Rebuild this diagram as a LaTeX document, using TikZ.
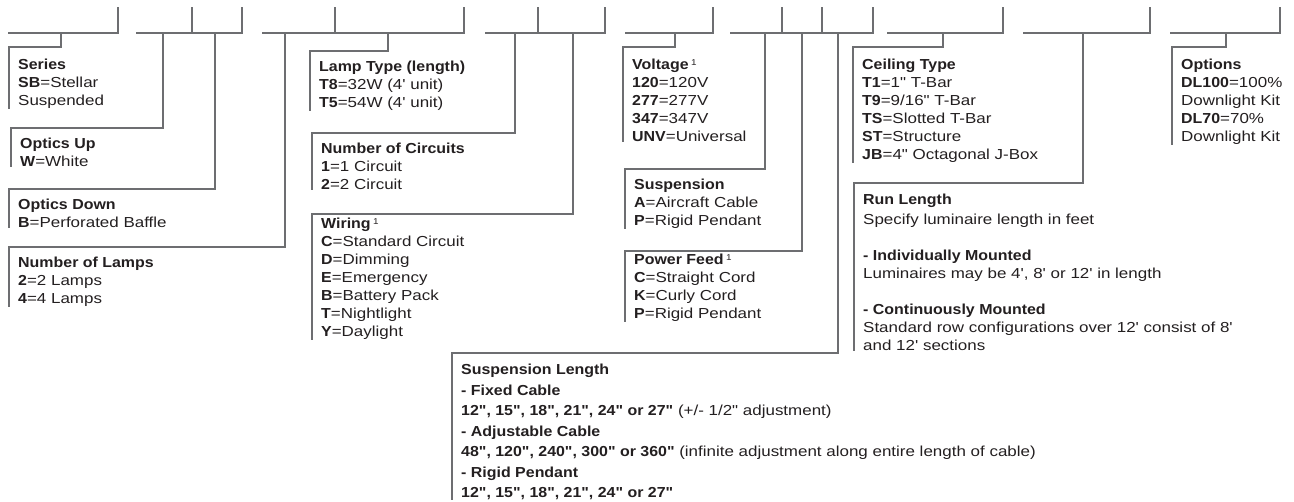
\documentclass[tikz,border=0pt]{standalone}
\usepackage{fontspec}
\setmainfont{Liberation Sans}[Ligatures=TeXOff,FakeStretch=1.17,BoldFeatures={FakeStretch=1.1}]
\definecolor{ink}{HTML}{231F20}
\definecolor{rulegray}{HTML}{6D6E71}
\newcommand\fnmark{\,\raisebox{4pt}{\fontsize{8.5}{8.5}\selectfont 1}}

\begin{document}
\begin{tikzpicture}[x=1pt,y=-1pt]
  \tikzstyle{lead}=[draw=rulegray,line width=1.2pt]
  \tikzstyle{spec}=[anchor=north west,align=left,inner xsep=9pt,inner ysep=0pt,text=ink,font=\fontsize{14.5}{18}\selectfont]
  \useasboundingbox (0,0) rectangle (1294,501);
  % code fields
  \draw[lead] (8,33) -- (118,33) -- (118,7);
  \draw[lead] (136,33) -- (242,33) -- (242,7) (192,33) -- (192,7);
  \draw[lead] (262,33) -- (464,33) -- (464,7) (335,33) -- (335,7);
  \draw[lead] (485,33) -- (605,33) -- (605,7) (538,33) -- (538,7);
  \draw[lead] (625,33) -- (713,33) -- (713,7);
  \draw[lead] (730,33) -- (873,33) -- (873,7) (782,33) -- (782,7) (822,33) -- (822,7);
  \draw[lead] (887,33) -- (1003,33) -- (1003,7);
  \draw[lead] (1023,33) -- (1150,33) -- (1150,7);
  \draw[lead] (1170,33) -- (1280,33) -- (1280,7);
  \coordinate (series-drop) at (61,33);
  \coordinate (optup-drop) at (163,33);
  \coordinate (optdown-drop) at (215,33);
  \coordinate (lamps-drop) at (285,33);
  \coordinate (lamptype-drop) at (388,33);
  \coordinate (circuits-drop) at (515,33);
  \coordinate (wiring-drop) at (573,33);
  \coordinate (voltage-drop) at (675,33);
  \coordinate (suspension-drop) at (765,33);
  \coordinate (feed-drop) at (802,33);
  \coordinate (susplength-drop) at (838,33);
  \coordinate (ceiling-drop) at (943,33);
  \coordinate (runlength-drop) at (1083,33);
  \coordinate (options-drop) at (1226,33);
  % legend blocks
  \node[spec] (series) at (9,59) {\textbf{Series}\\\textbf{SB}=Stellar\\Suspended};
  \node[spec] (optup) at (11,138) {\textbf{Optics Up}\\\textbf{W}=White};
  \node[spec] (optdown) at (9,199) {\textbf{Optics Down}\\\textbf{B}=Perforated Baffle};
  \node[spec] (lamps) at (9,257) {\textbf{Number of Lamps}\\\textbf{2}=2 Lamps\\\textbf{4}=4 Lamps};
  \node[spec] (lamptype) at (310,61) {\textbf{Lamp Type (length)}\\\textbf{T8}=32W (4' unit)\\\textbf{T5}=54W (4' unit)};
  \node[spec] (circuits) at (312,143) {\textbf{Number of Circuits}\\\textbf{1}=1 Circuit\\\textbf{2}=2 Circuit};
  \node[spec] (wiring) at (312,218) {\textbf{Wiring}\fnmark\\\textbf{C}=Standard Circuit\\\textbf{D}=Dimming\\\textbf{E}=Emergency\\\textbf{B}=Battery Pack\\\textbf{T}=Nightlight\\\textbf{Y}=Daylight};
  \node[spec] (voltage) at (623,59) {\textbf{Voltage}\fnmark\\\textbf{120}=120V\\\textbf{277}=277V\\\textbf{347}=347V\\\textbf{UNV}=Universal};
  \node[spec] (suspension) at (625,179) {\textbf{Suspension}\\\textbf{A}=Aircraft Cable\\\textbf{P}=Rigid Pendant};
  \node[spec] (feed) at (625,254) {\textbf{Power Feed}\fnmark\\\textbf{C}=Straight Cord\\\textbf{K}=Curly Cord\\\textbf{P}=Rigid Pendant};
  \node[spec,font=\fontsize{14.5}{20.5}\selectfont] (susplength) at (452,364) {\textbf{Suspension Length}\\\textbf{- Fixed Cable}\\\textbf{12", 15", 18", 21", 24" or 27"} (+/- 1/2" adjustment)\\\textbf{- Adjustable Cable}\\\textbf{48", 120", 240", 300" or 360"} (infinite adjustment along entire length of cable)\\\textbf{- Rigid Pendant}\\\textbf{12", 15", 18", 21", 24" or 27"}};
  \node[spec] (ceiling) at (853,59) {\textbf{Ceiling Type}\\\textbf{T1}=1" T-Bar\\\textbf{T9}=9/16" T-Bar\\\textbf{TS}=Slotted T-Bar\\\textbf{ST}=Structure\\\textbf{JB}=4" Octagonal J-Box};
  \node[spec] (runlength) at (854,194) {\textbf{Run Length}\\[2pt]Specify luminaire length in feet\\[18pt]\textbf{- Individually Mounted}\\Luminaires may be 4', 8' or 12' in length\\[18pt]\textbf{- Continuously Mounted}\\Standard row configurations over 12' consist of 8'\\and 12' sections};
  \node[spec] (options) at (1172,59) {\textbf{Options}\\\textbf{DL100}=100\%\\Downlight Kit\\\textbf{DL70}=70\%\\Downlight Kit};
  % leaders
  \draw[lead] (series-drop) |- ([yshift=12pt]series.north west) -- (series.south west);
  \draw[lead] (optup-drop) |- ([yshift=10pt]optup.north west) -- (optup.south west);
  \draw[lead] (optdown-drop) |- ([yshift=10pt]optdown.north west) -- (optdown.south west);
  \draw[lead] (lamps-drop) |- ([yshift=10pt]lamps.north west) -- (lamps.south west);
  \draw[lead] (lamptype-drop) |- ([yshift=10pt]lamptype.north west) -- (lamptype.south west);
  \draw[lead] (circuits-drop) |- ([yshift=10pt]circuits.north west) -- (circuits.south west);
  \draw[lead] (wiring-drop) |- ([yshift=4pt]wiring.north west) -- (wiring.south west);
  \draw[lead] (voltage-drop) |- ([yshift=12pt]voltage.north west) -- (voltage.south west);
  \draw[lead] (suspension-drop) |- ([yshift=10pt]suspension.north west) -- (suspension.south west);
  \draw[lead] (feed-drop) |- ([yshift=3pt]feed.north west) -- (feed.south west);
  \draw[lead] (susplength-drop) |- ([yshift=11pt]susplength.north west) -- (susplength.south west);
  \draw[lead] (ceiling-drop) |- ([yshift=12pt]ceiling.north west) -- (ceiling.south west);
  \draw[lead] (runlength-drop) |- ([yshift=11pt]runlength.north west) -- (runlength.south west);
  \draw[lead] (options-drop) |- ([yshift=12pt]options.north west) -- (options.south west);
\end{tikzpicture}
\end{document}
